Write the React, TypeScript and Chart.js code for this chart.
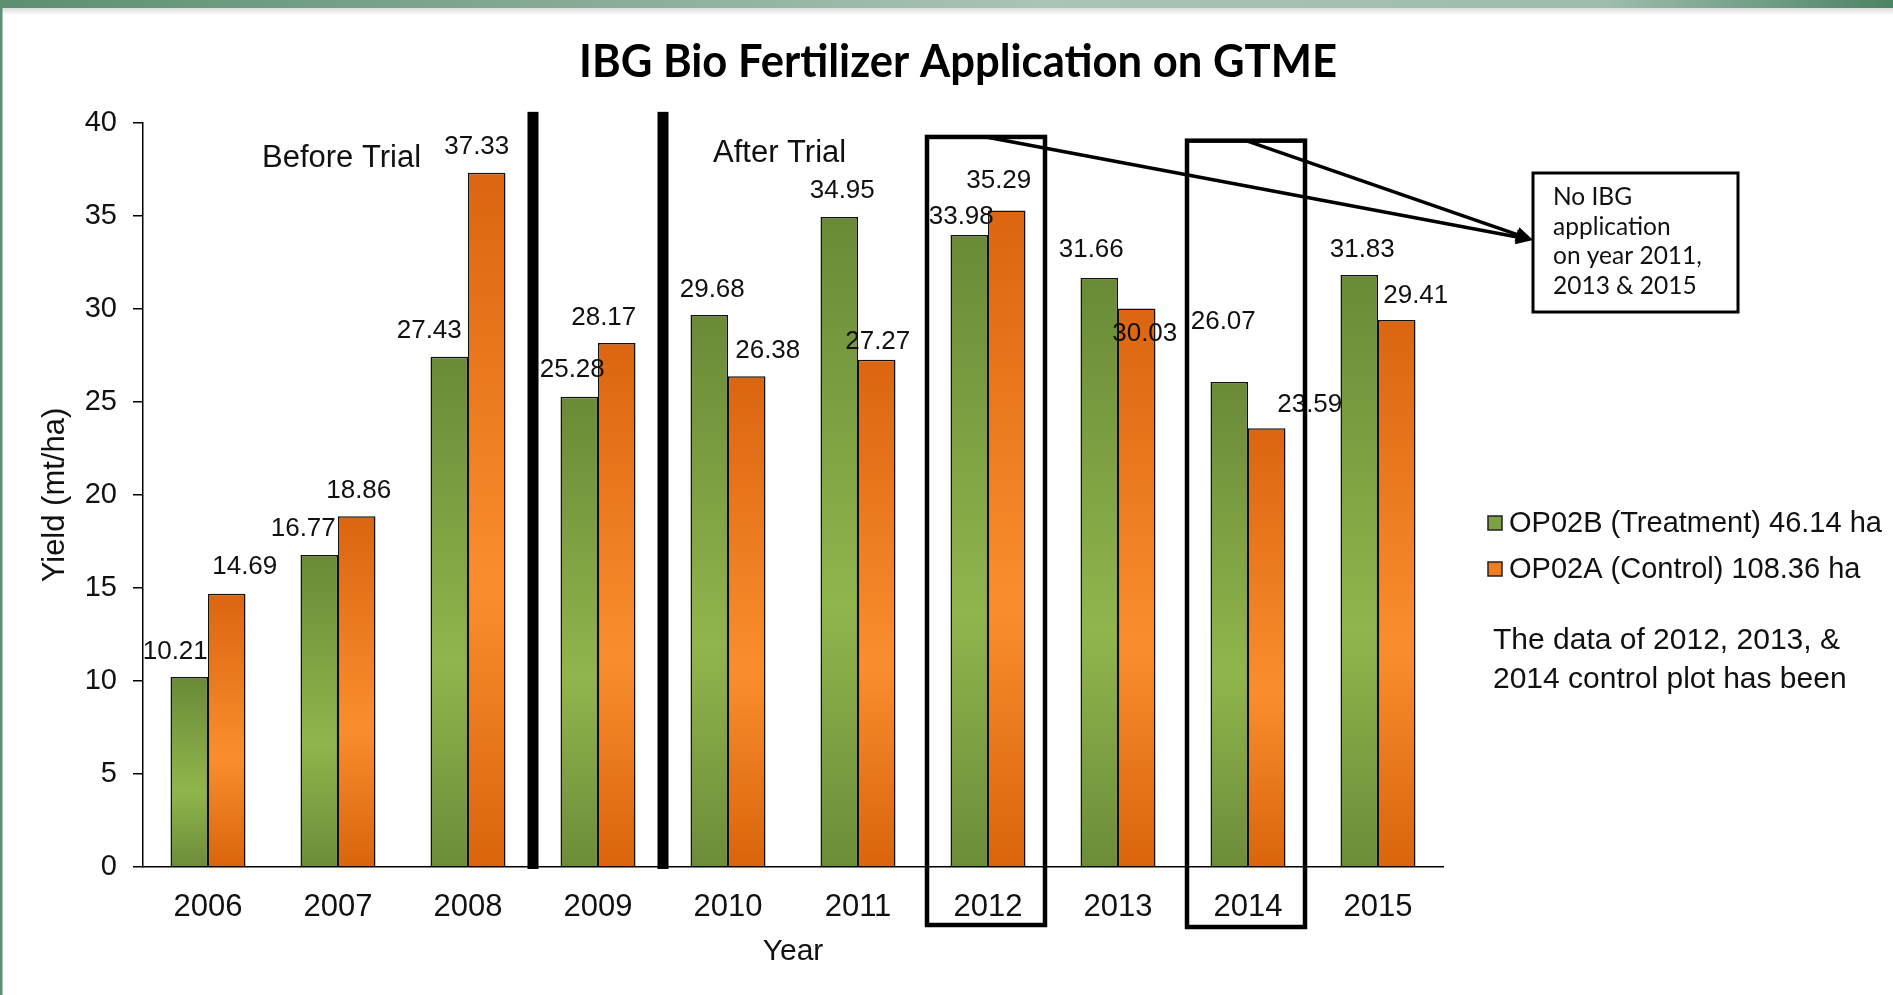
import { useEffect, useRef } from 'react';
import { Chart, registerables } from 'chart.js';

Chart.register(...registerables);

// ---------- data ----------
const years = ['2006', '2007', '2008', '2009', '2010', '2011', '2012', '2013', '2014', '2015'];
const treatment = [10.21, 16.77, 27.43, 25.28, 29.68, 34.95, 33.98, 31.66, 26.07, 31.83];
const control = [14.69, 18.86, 37.33, 28.17, 26.38, 27.27, 35.29, 30.03, 23.59, 29.41];
const seriesNames = ['OP02B (Treatment) 46.14 ha', 'OP02A (Control) 108.36 ha'];
const yMin = 0;
const yMax = 40;
const yStep = 5;
const titleText = 'IBG Bio Fertilizer Application on GTME';
const yTitle = 'Yield (mt/ha)';
const xTitle = 'Year';
const calloutLines = ['No IBG', 'application', 'on year 2011,', '2013 & 2015'];
const noteLines = ['The data of 2012, 2013, &', '2014 control plot has been'];

// label nudges (pixels) relative to the top-centre of each bar
const treatmentNudge = [[-14, -25], [-16, -26], [-20, -26], [-7, -27], [3, -25], [3, -26], [-8, -18], [-8, -28], [-6, -60], [3, -25]];
const controlNudge = [[18, -27], [2, -25], [-10, -26], [-13, -25], [21, -26], [1, -18], [-8, -30], [8, 25], [43, -23], [19, -24]];

const SANS = "'Liberation Sans', Arial, sans-serif";
const CAL = "Lato, 'Open Sans', sans-serif";

const greenStops = ['#6a8a37', '#91b54d', '#6c8c39'];
const orangeStops = ['#db6510', '#fa8e2e', '#d9640c'];
const greenSolid = '#7da243';
const orangeSolid = '#f27c1e';

function barGradient(stops: string[]) {
  return (c: any) => {
    const chart = c.chart;
    if (!chart.chartArea || c.type !== 'data') return stops[1];
    const y = chart.scales.y;
    const top = y.getPixelForValue(c.raw as number);
    const bottom = y.getPixelForValue(0);
    if (!isFinite(top) || !isFinite(bottom) || top === bottom) return stops[1];
    const g = chart.ctx.createLinearGradient(0, top, 0, bottom);
    g.addColorStop(0, stops[0]);
    g.addColorStop(0.6, stops[1]);
    g.addColorStop(1, stops[2]);
    return g;
  };
}

const decor = {
  id: 'decor',
  beforeDraw(chart: any) {
    const { ctx, width, height } = chart;
    ctx.save();
    ctx.fillStyle = '#ffffff';
    ctx.fillRect(0, 0, width, height);
    const g = ctx.createLinearGradient(0, 0, width, 0);
    g.addColorStop(0, '#5c9070');
    g.addColorStop(0.3, '#86ab95');
    g.addColorStop(0.55, '#aac4b6');
    g.addColorStop(0.85, '#9dbcac');
    g.addColorStop(1, '#4b8463');
    ctx.fillStyle = g;
    ctx.fillRect(0, 0, width, 8);
    const s = ctx.createLinearGradient(0, 8, 0, 15);
    s.addColorStop(0, 'rgba(0,0,0,0.14)');
    s.addColorStop(1, 'rgba(0,0,0,0)');
    ctx.fillStyle = s;
    ctx.fillRect(0, 8, width, 7);
    ctx.fillStyle = '#5c9070';
    ctx.fillRect(0, 0, 2.5, height);
    ctx.restore();
  },
  afterDatasetsDraw(chart: any) {
    const { ctx } = chart;
    ctx.save();
    ctx.font = `26px ${SANS}`;
    ctx.fillStyle = '#111';
    ctx.textAlign = 'center';
    ctx.textBaseline = 'middle';
    const nudges = [treatmentNudge, controlNudge];
    chart.data.datasets.forEach((ds: any, di: number) => {
      const meta = chart.getDatasetMeta(di);
      meta.data.forEach((bar: any, i: number) => {
        const [dx, dy] = nudges[di][i];
        ctx.fillText(ds.data[i].toFixed(2), bar.x + dx, bar.y + dy);
      });
    });
    ctx.restore();
  },
  afterDraw(chart: any) {
    const { ctx, chartArea } = chart;
    const x = chart.scales.x;
    const y = chart.scales.y;
    ctx.save();

    // title
    ctx.font = `bold 45px ${CAL}`;
    ctx.fillStyle = '#000';
    ctx.textAlign = 'center';
    ctx.textBaseline = 'alphabetic';
    const tw = ctx.measureText(titleText).width;
    const sx = 758 / tw;
    ctx.save();
    ctx.translate(958, 77);
    ctx.scale(sx, 1);
    ctx.fillText(titleText, 0, 0);
    ctx.restore();

    // trial separators
    ctx.fillStyle = '#000';
    for (const i of [2, 3]) {
      const bx = (x.getPixelForValue(i) + x.getPixelForValue(i + 1)) / 2;
      const top = y.getPixelForValue(40.6);
      ctx.fillRect(bx - 5.5, top, 11, chartArea.bottom + 2 - top);
    }

    // before / after text
    ctx.font = `31px ${SANS}`;
    ctx.textAlign = 'left';
    ctx.fillStyle = '#111';
    ctx.fillText('Before Trial', 262, 167);
    ctx.fillText('After Trial', 713, 162);

    // boxes around 2012 and 2014
    ctx.strokeStyle = '#000';
    ctx.lineWidth = 4.5;
    const boxes = [
      { i: 6, topV: 39.25, bottom: chartArea.bottom + 58 },
      { i: 8, topV: 39.05, bottom: chartArea.bottom + 60 },
    ];
    const starts: number[][] = [];
    for (const b of boxes) {
      const cx = x.getPixelForValue(b.i) - 2;
      const top = y.getPixelForValue(b.topV);
      ctx.strokeRect(cx - 59, top, 118, b.bottom - top);
      starts.push([cx, top]);
    }

    // arrows to callout
    const tip = [1533, 240];
    ctx.lineWidth = 3.5;
    for (const [sx0, sy0] of starts) {
      const ang = Math.atan2(tip[1] - sy0, tip[0] - sx0);
      const ex = tip[0] - Math.cos(ang) * 12;
      const ey = tip[1] - Math.sin(ang) * 12;
      ctx.beginPath();
      ctx.moveTo(sx0, sy0);
      ctx.lineTo(ex, ey);
      ctx.stroke();
      ctx.beginPath();
      ctx.moveTo(tip[0], tip[1]);
      ctx.lineTo(tip[0] - Math.cos(ang) * 17 - Math.sin(ang) * 7.5, tip[1] - Math.sin(ang) * 17 + Math.cos(ang) * 7.5);
      ctx.lineTo(tip[0] - Math.cos(ang) * 17 + Math.sin(ang) * 7.5, tip[1] - Math.sin(ang) * 17 - Math.cos(ang) * 7.5);
      ctx.closePath();
      ctx.fillStyle = '#000';
      ctx.fill();
    }

    // callout box
    ctx.lineWidth = 3;
    ctx.fillStyle = '#fff';
    ctx.fillRect(1533, 173, 205, 139);
    ctx.strokeRect(1533, 173, 205, 139);
    ctx.fillStyle = '#111';
    ctx.font = `24.5px ${CAL}`;
    calloutLines.forEach((t, k) => ctx.fillText(t, 1553, 205 + k * 29.5));

    // legend
    ctx.font = `29px ${SANS}`;
    ctx.textBaseline = 'middle';
    const sw = [greenSolid, orangeSolid];
    chart.data.datasets.forEach((ds: any, k: number) => {
      const cy = 523 + k * 46;
      ctx.fillStyle = sw[k];
      ctx.fillRect(1488, cy - 7, 14, 14);
      ctx.lineWidth = 1.5;
      ctx.strokeStyle = '#222';
      ctx.strokeRect(1488, cy - 7, 14, 14);
      ctx.fillStyle = '#111';
      ctx.fillText(ds.label, 1509, cy + 1);
    });

    // note
    ctx.font = `30px ${SANS}`;
    noteLines.forEach((t, k) => ctx.fillText(t, 1493, 641 + k * 38.5));

    ctx.restore();
  },
};

export default function App() {
  const ref = useRef<HTMLCanvasElement>(null);
  useEffect(() => {
    if (!ref.current) return;
    const chart = new Chart(ref.current, {
      type: 'bar',
      data: {
        labels: years,
        datasets: [
          {
            label: seriesNames[0],
            data: treatment,
            backgroundColor: barGradient(greenStops),
            borderColor: '#111',
            borderWidth: 1.5,
            barPercentage: 1,
            categoryPercentage: 0.577,
          },
          {
            label: seriesNames[1],
            data: control,
            backgroundColor: barGradient(orangeStops),
            borderColor: '#111',
            borderWidth: 1.5,
            barPercentage: 1,
            categoryPercentage: 0.577,
          },
        ],
      },
      options: {
        responsive: false,
        maintainAspectRatio: false,
        animation: false,
        devicePixelRatio: 1,
        layout: { padding: { left: 0, top: 123, right: 450, bottom: 0 } },
        plugins: {
          legend: { display: false },
          title: { display: false },
          tooltip: { enabled: false },
        },
        scales: {
          x: {
            afterFit: (s: any) => { s.height = 128; },
            grid: { display: true, drawOnChartArea: false, drawTicks: false },
            border: { display: true, color: '#000', width: 1.5 },
            ticks: { color: '#111', font: { family: SANS, size: 31 }, padding: 22 },
            title: { display: true, text: xTitle, color: '#111', font: { family: SANS, size: 30 }, padding: { top: 0, bottom: 25 } },
          },
          y: {
            min: yMin,
            max: yMax,
            afterFit: (s: any) => { s.width = 143; },
            grid: { display: true, drawOnChartArea: false, drawTicks: true, tickLength: 10, color: '#000', lineWidth: 1.5 },
            border: { display: true, color: '#000', width: 1.5 },
            ticks: { stepSize: yStep, color: '#111', font: { family: SANS, size: 29 }, padding: 16 },
            title: { display: true, text: yTitle, color: '#111', font: { family: SANS, size: 31 }, padding: { top: 37, bottom: 0 } },
          },
        },
      },
      plugins: [decor],
    });
    return () => chart.destroy();
  }, []);
  return (
    <div style={{ position: 'fixed', left: 0, top: 0, width: 1893, height: 995, background: '#fff' }}>
      <canvas ref={ref} width={1893} height={995} style={{ display: 'block', width: 1893, height: 995 }} />
    </div>
  );
}
